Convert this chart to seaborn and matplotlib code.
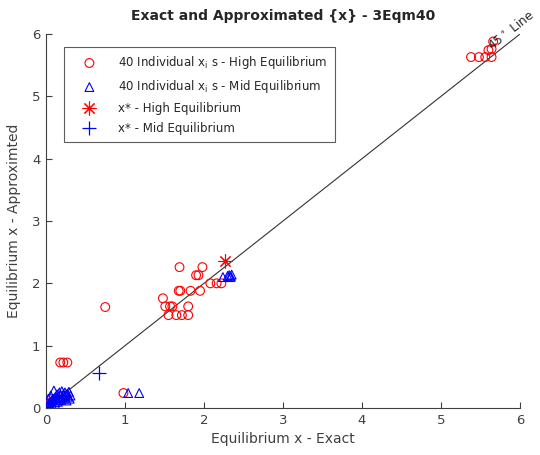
import numpy as np
import pandas as pd
import matplotlib
matplotlib.use("Agg")
import matplotlib.pyplot as plt
import seaborn as sns

sns.set_style("white")
plt.rcParams["font.family"] = ["DejaVu Sans"]

# Individual solutions for the high equilibrium (exact, approximated)
high_exact = [5.38, 5.48, 5.56, 5.64, 5.60, 5.64, 5.66,
              1.48, 1.51, 1.57, 1.60, 1.80, 1.55, 1.65, 1.72, 1.80,
              1.68, 1.70, 1.83, 1.95, 2.08, 2.16, 2.22, 1.90, 1.93,
              1.69, 1.98,
              0.75, 0.18, 0.22, 0.27, 0.98,
              0.05, 0.10, 0.15, 0.20, 0.12, 0.25, 0.08, 0.18]
high_approx = [5.63, 5.63, 5.63, 5.63, 5.74, 5.76, 5.88,
               1.76, 1.63, 1.63, 1.63, 1.63, 1.49, 1.49, 1.49, 1.49,
               1.88, 1.88, 1.88, 1.88, 2.00, 2.00, 2.00, 2.13, 2.13,
               2.26, 2.26,
               1.62, 0.73, 0.73, 0.73, 0.24,
               0.08, 0.12, 0.15, 0.18, 0.05, 0.20, 0.10, 0.12]

# Individual solutions for the mid equilibrium (exact, approximated)
mid_exact = [1.04, 1.18,
             2.24, 2.30, 2.32, 2.34, 2.35, 2.33,
             0.02, 0.03, 0.04, 0.05, 0.06, 0.07, 0.08, 0.09, 0.10, 0.11,
             0.12, 0.13, 0.14, 0.15, 0.16, 0.17, 0.18, 0.19, 0.20, 0.21,
             0.22, 0.23, 0.24, 0.25, 0.26, 0.27, 0.28, 0.29, 0.30, 0.31,
             0.03, 0.06]
mid_approx = [0.24, 0.24,
              2.10, 2.12, 2.13, 2.11, 2.14, 2.10,
              0.02, 0.05, 0.08, 0.03, 0.10, 0.06, 0.12, 0.15, 0.28, 0.09,
              0.18, 0.13, 0.22, 0.10, 0.16, 0.25, 0.20, 0.13, 0.27, 0.18,
              0.22, 0.15, 0.25, 0.20, 0.12, 0.23, 0.18, 0.26, 0.15, 0.20,
              0.15, 0.20]

# Equilibrium points x*
star_high = (2.27, 2.36)
star_mid = (0.67, 0.56)

ticks = [0, 1, 2, 3, 4, 5, 6]

df_high = pd.DataFrame({"exact": high_exact, "approx": high_approx})
df_mid = pd.DataFrame({"exact": mid_exact, "approx": mid_approx})

fig = plt.figure(figsize=(5.40, 4.55), dpi=100)
ax = fig.add_axes([46 / 540, 1 - 408 / 455, 474 / 540, 374 / 455])

ax.plot([0, 6], [0, 6], color="#333333", lw=0.8, zorder=1)

sns.scatterplot(data=df_high, x="exact", y="approx", ax=ax, marker="o",
                s=40, facecolors="none", edgecolor="#ff0000", linewidth=0.8,
                label="40 Individual x$_\\mathrm{i}$ s - High Equilibrium", zorder=3)
sns.scatterplot(data=df_mid, x="exact", y="approx", ax=ax, marker="^",
                s=40, facecolors="none", edgecolor="#0000ff", linewidth=0.8,
                label="40 Individual x$_\\mathrm{i}$ s - Mid Equilibrium", zorder=3)
# asterisk: plus and cross combined
ax.plot([star_high[0]], [star_high[1]], linestyle="none", marker=(8, 2, 0),
        markersize=10, color="#ff0000", markeredgewidth=0.8,
        label="x* - High Equilibrium", zorder=4)
ax.plot([star_mid[0]], [star_mid[1]], linestyle="none", marker="+",
        markersize=10, color="#0000ff", markeredgewidth=0.9,
        label="x* - Mid Equilibrium", zorder=4)

ax.text(5.64, 5.74, "45$^\\circ$ Line", rotation=38.3, rotation_mode="anchor",
        ha="left", va="baseline", fontsize=8.8, clip_on=False)

ax.set_xlim(0, 6)
ax.set_ylim(0, 6)
ax.set_xticks(ticks)
ax.set_yticks(ticks)
ax.set_xticklabels([str(t) for t in ticks])
ax.set_yticklabels([str(t) for t in ticks])

gray = "#404040"
for side in ["top", "right"]:
    ax.spines[side].set_visible(False)
for side in ["left", "bottom"]:
    ax.spines[side].set_color(gray)
    ax.spines[side].set_linewidth(0.8)
ax.tick_params(direction="in", length=4, width=0.8, colors=gray,
               labelsize=9.5, pad=4, left=True, bottom=True)

ax.set_xlabel("Equilibrium x - Exact", fontsize=10, color=gray, labelpad=4)
ax.set_ylabel("Equilibrium x - Approximted", fontsize=10, color=gray, labelpad=8)
ax.set_title("Exact and Approximated {x} - 3Eqm40", fontsize=10,
             fontweight="bold", pad=10)

leg = ax.legend(loc="upper left", bbox_to_anchor=(64 / 540, 1 - 47 / 455),
                bbox_transform=fig.transFigure, borderaxespad=0,
                frameon=True, fancybox=False, fontsize=8.5,
                handletextpad=0.9, borderpad=0.6, labelspacing=0.6,
                handlelength=3.1)
leg.get_frame().set_edgecolor("#333333")
leg.get_frame().set_linewidth(0.8)

fig.savefig("out.png", dpi=100)
